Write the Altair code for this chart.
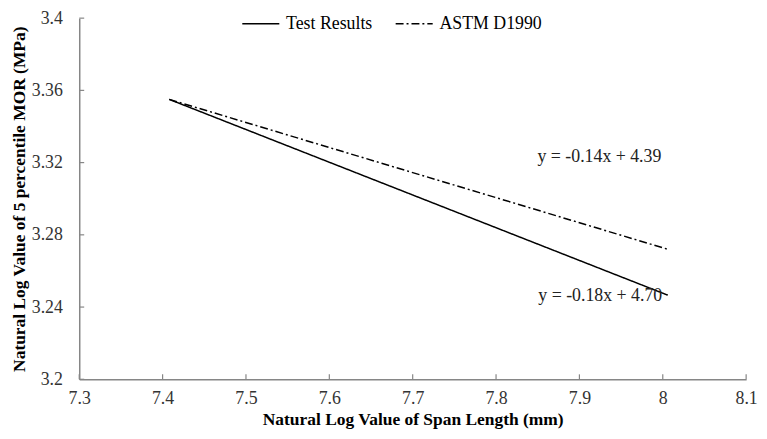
import altair as alt
import pandas as pd

series_names = ["Test Results", "ASTM D1990"]
test_x = [7.408, 8.006]
test_y = [3.355, 3.2466]
astm_x = [7.408, 8.006]
astm_y = [3.355, 3.272]

eq_text = ["y = -0.14x + 4.39", "y = -0.18x + 4.70"]
eq_x = [7.924, 7.925]
eq_y = [3.323, 3.246]

x_ticks = [7.3, 7.4, 7.5, 7.6, 7.7, 7.8, 7.9, 8.0, 8.1]
y_ticks = [3.2, 3.24, 3.28, 3.32, 3.36, 3.4]

rows = []
for xv, yv in zip(test_x, test_y):
    rows.append({"x": xv, "y": yv, "series": series_names[0]})
for xv, yv in zip(astm_x, astm_y):
    rows.append({"x": xv, "y": yv, "series": series_names[1]})
lines_df = pd.DataFrame(rows)
eq_df = pd.DataFrame({"x": eq_x, "y": eq_y, "text": eq_text})
xt_df = pd.DataFrame({"x": x_ticks})
yt_df = pd.DataFrame({"y": y_ticks})

FONT = "Liberation Serif"
FS = 18
TFS = 17.6
W, H = 674, 365

xscale = alt.Scale(domain=[7.3, 8.1], nice=False, zero=False)
yscale = alt.Scale(domain=[3.2, 3.4], nice=False, zero=False)

xaxis = alt.Axis(values=x_ticks, format=".1~f", grid=False, ticks=False,
                 domainColor="#868686", domainWidth=1.5,
                 labelFont=FONT, labelFontSize=FS, labelColor="#333333",
                 labelPadding=10, titleFont=FONT, titleFontSize=TFS,
                 titleFontWeight="bold", titleColor="#000000", titlePadding=4,
                 labelFlush=False)
yaxis = alt.Axis(values=y_ticks, format=".2~f", grid=False, ticks=False,
                 domainColor="#868686", domainWidth=1.5,
                 labelFont=FONT, labelFontSize=FS, labelColor="#333333",
                 labelPadding=17, titleFont=FONT, titleFontSize=TFS,
                 titleFontWeight="bold", titleColor="#000000", titlePadding=3,
                 labelFlush=False)

lines = alt.Chart(lines_df).mark_line(color="black", strokeWidth=1.5).encode(
    x=alt.X("x:Q", scale=xscale, axis=xaxis,
            title="Natural Log Value of Span Length (mm)"),
    y=alt.Y("y:Q", scale=yscale, axis=yaxis,
            title="Natural Log Value of 5 percentile MOR (MPa)"),
    strokeDash=alt.StrokeDash(
        "series:N",
        scale=alt.Scale(domain=series_names, range=[[1, 0], [8, 3, 2, 3]]),
        sort=series_names,
        legend=alt.Legend(title=None, orient="none", legendX=164, legendY=-14,
                          direction="horizontal", symbolType="stroke",
                          symbolSize=1400, symbolStrokeWidth=1.5,
                          symbolStrokeColor="black",
                          labelFont=FONT, labelFontSize=FS, labelColor="#000000",
                          labelOffset=6, columnPadding=19),
    ),
)

eqs = alt.Chart(eq_df).mark_text(font=FONT, fontSize=FS, color="#222222").encode(
    x=alt.X("x:Q", scale=xscale),
    y=alt.Y("y:Q", scale=yscale),
    text="text:N",
)

xticks = alt.Chart(xt_df).mark_rule(color="#868686", strokeWidth=1.2).encode(
    x=alt.X("x:Q", scale=xscale),
    y=alt.value(H),
    y2=alt.value(H - 5),
)
yticks = alt.Chart(yt_df).mark_rule(color="#868686", strokeWidth=1.2).encode(
    y=alt.Y("y:Q", scale=yscale),
    x=alt.value(0),
    x2=alt.value(5),
)

chart = alt.layer(xticks, yticks, lines, eqs).properties(
    width=W, height=H,
    autosize=alt.AutoSizeParams(type="none"),
    padding={"left": 72, "top": 8, "right": 13, "bottom": 50},
).configure_view(stroke=None)

chart.save("out.html", embed_options={"renderer": "svg", "actions": False})
